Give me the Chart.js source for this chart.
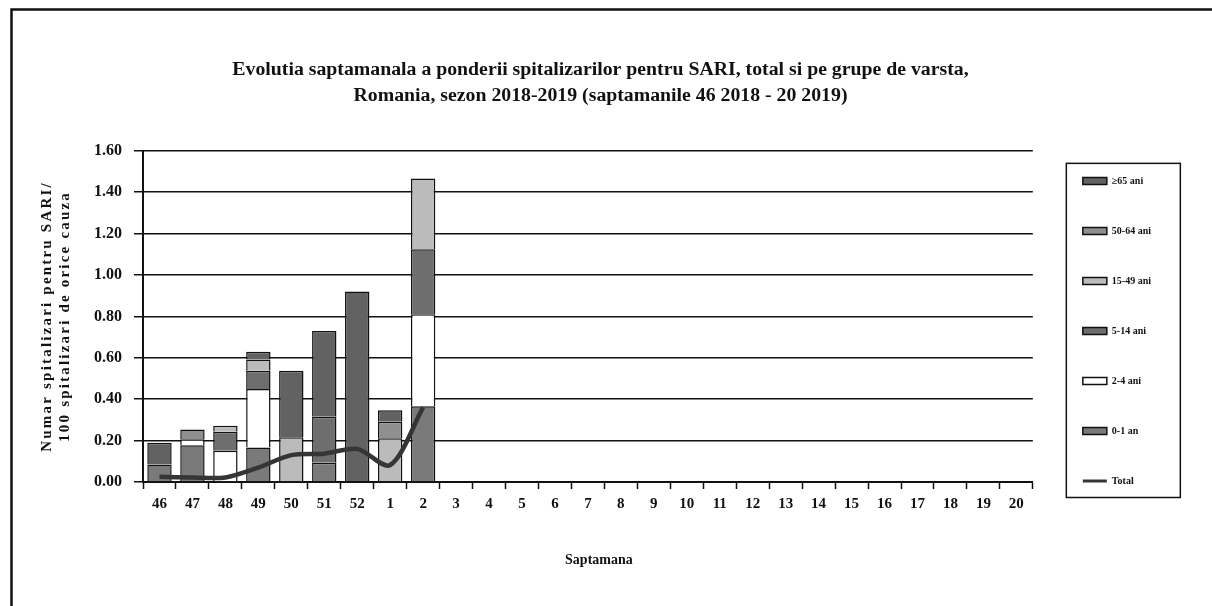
<!DOCTYPE html>
<html>
<head>
<meta charset="utf-8">
<script src="https://cdn.jsdelivr.net/npm/chart.js@4"></script>
<style>
  html, body { margin: 0; padding: 0; background: #fff; }
  #box { width: 1212px; height: 606px; }
</style>
</head>
<body>
<div id="box"><canvas id="sariChart" width="1212" height="606"></canvas></div>
<script>
const weeks = ['46', '47', '48', '49', '50', '51', '52', '1', '2', '3', '4', '5', '6', '7',
  '8', '9', '10', '11', '12', '13', '14', '15', '16', '17', '18', '19', '20'];

// values, weeks 46 .. 2 (later weeks empty)
const age0to1 = [0.085, 0.178, 0, 0.167, 0, 0.093, 0, 0, 0.366];
const age2to4 = [0, 0.028, 0.151, 0.282, 0, 0, 0, 0, 0.445];
const age5to14 = [0, 0, 0.092, 0.088, 0, 0.222, 0, 0, 0.314];
const age15to49 = [0, 0, 0.029, 0.055, 0.216, 0, 0, 0.211, 0.342];
const age50to64 = [0, 0.048, 0, 0, 0, 0, 0, 0.080, 0];
const age65plus = [0.105, 0, 0, 0.037, 0.321, 0.415, 0.92, 0.056, 0];
const totalLine = [0.025, 0.022, 0.022, 0.07, 0.13, 0.137, 0.16, 0.082, 0.36];

const yTicks = [0, 0.2, 0.4, 0.6, 0.8, 1.0, 1.2, 1.4, 1.6];

const serif = '"Liberation Serif", "DejaVu Serif", serif';
const legendPad = 40;

function barSet(label, values, color) {
  return {
    type: 'bar',
    label: label,
    data: values,
    backgroundColor: color,
    borderColor: '#111',
    borderWidth: 1.5,
    barPercentage: 0.74,
    categoryPercentage: 1,
    order: 1,
  };
}

function patchTitle(scale, dx, spacing) {
  if (scale._patched) return;
  const orig = scale.drawTitle;
  scale.drawTitle = function () {
    this.ctx.save();
    this.ctx.translate(dx, 0);
    if (spacing) this.ctx.letterSpacing = spacing;
    orig.apply(this, arguments);
    this.ctx.restore();
  };
  scale._patched = true;
}

// white page, scanned frame, legend box; nudges legend, titles and
// spaces out the letters of the y title like the original
const framePlugin = {
  id: 'frame',
  afterLayout(chart) {
    const lg = chart.legend;
    lg.left = chart.chartArea.right + 50 - legendPad;
    lg.top += 23;
    lg.bottom += 23;
    const tt = chart.titleBlock;
    if (tt) {
      tt.left += 19;
      tt.right += 19;
    }
    patchTitle(chart.scales.y, 0, '2.2px');
    patchTitle(chart.scales.x, 11, null);
  },
  beforeDraw(chart) {
    const ctx = chart.ctx;
    ctx.save();
    ctx.fillStyle = '#fff';
    ctx.fillRect(0, 0, chart.width, chart.height);
    ctx.strokeStyle = '#111';
    ctx.lineWidth = 2.5;
    ctx.beginPath();
    ctx.moveTo(11.5, chart.height);
    ctx.lineTo(11.5, 9.5);
    ctx.lineTo(chart.width, 9.5);
    ctx.stroke();
    ctx.restore();
  },
  afterDraw(chart) {
    const ca = chart.chartArea;
    const ctx = chart.ctx;
    ctx.save();
    ctx.strokeStyle = '#111';
    ctx.lineWidth = 1.5;
    ctx.strokeRect(ca.right + 33.5, ca.top + 12.5, 114, ca.bottom - ca.top + 3);
    ctx.restore();
  }
};

const ctx = document.getElementById('sariChart').getContext('2d');

new Chart(ctx, {
  data: {
    labels: weeks,
    datasets: [
      {
        type: 'line',
        label: 'Total',
        data: totalLine,
        borderColor: '#353535',
        backgroundColor: '#353535',
        borderWidth: 4.5,
        pointRadius: 0,
        tension: 0.3,
        pointStyle: 'line',
        order: 0,
      },
      barSet('0-1 an', age0to1, '#7a7a7a'),
      barSet('2-4 ani', age2to4, '#ffffff'),
      barSet('5-14 ani', age5to14, '#6e6e6e'),
      barSet('15-49 ani', age15to49, '#bbbbbb'),
      barSet('50-64 ani', age50to64, '#8f8f8f'),
      barSet('\u226565 ani', age65plus, '#626262'),
    ]
  },
  options: {
    responsive: false,
    animation: false,
    layout: {
      padding: { left: 12, right: 61, top: 10, bottom: 0 }
    },
    plugins: {
      title: {
        display: true,
        text: [
          'Evolutia saptamanala a ponderii spitalizarilor pentru SARI, total si pe grupe de varsta,',
          'Romania, sezon 2018-2019 (saptamanile 46 2018 - 20 2019)'
        ],
        color: '#111',
        font: { family: serif, size: 19.8, weight: 'bold', lineHeight: 1.36 },
        padding: { top: 46, bottom: 41 }
      },
      legend: {
        position: 'right',
        reverse: true,
        labels: {
          color: '#111',
          font: { family: serif, size: 10, weight: 'bold' },
          usePointStyle: true,
          pointStyleWidth: 24,
          boxHeight: 7,
          padding: legendPad,
          generateLabels(chart) {
            const items = Chart.defaults.plugins.legend.labels.generateLabels(chart);
            items.forEach(it => {
              it.pointStyle = it.text === 'Total' ? 'line' : 'rect';
              if (it.text === 'Total') {
                it.lineWidth = 3;
                it.strokeStyle = '#353535';
              }
            });
            return items;
          }
        }
      },
      tooltip: { enabled: false }
    },
    scales: {
      x: {
        stacked: true,
        offset: true,
        grid: {
          offset: true,
          drawOnChartArea: false,
          color: '#111',
          tickLength: 7,
          tickWidth: 1.5,
        },
        border: { color: '#111', width: 2 },
        ticks: {
          color: '#111',
          font: { family: serif, size: 15, weight: 'bold' },
          maxRotation: 0,
          autoSkip: false,
          padding: 6,
        },
        title: {
          display: true,
          text: 'Saptamana',
          color: '#111',
          font: { family: serif, size: 14, weight: 'bold' },
          padding: { top: 10, bottom: 37 }
        },
        afterFit(scale) { scale.height = 124; }
      },
      y: {
        stacked: true,
        min: 0,
        max: 1.6,
        afterBuildTicks(scale) { scale.ticks = yTicks.map(v => ({ value: v })); },
        grid: {
          color: '#111',
          lineWidth: 1.5,
          tickLength: 9,
        },
        border: { color: '#111', width: 2 },
        ticks: {
          color: '#111',
          font: { family: serif, size: 16, weight: 'bold' },
          padding: 12,
          callback: v => Number(v).toFixed(2),
        },
        title: {
          display: true,
          text: ['Numar spitalizari pentru SARI/', '100 spitalizari de orice cauza'],
          color: '#111',
          font: { family: serif, size: 15, weight: 'bold', lineHeight: 1.2 },
          padding: { top: 26, bottom: 4 }
        },
        afterFit(scale) { scale.width = 131; }
      }
    }
  },
  plugins: [framePlugin]
});
</script>
</body>
</html>
